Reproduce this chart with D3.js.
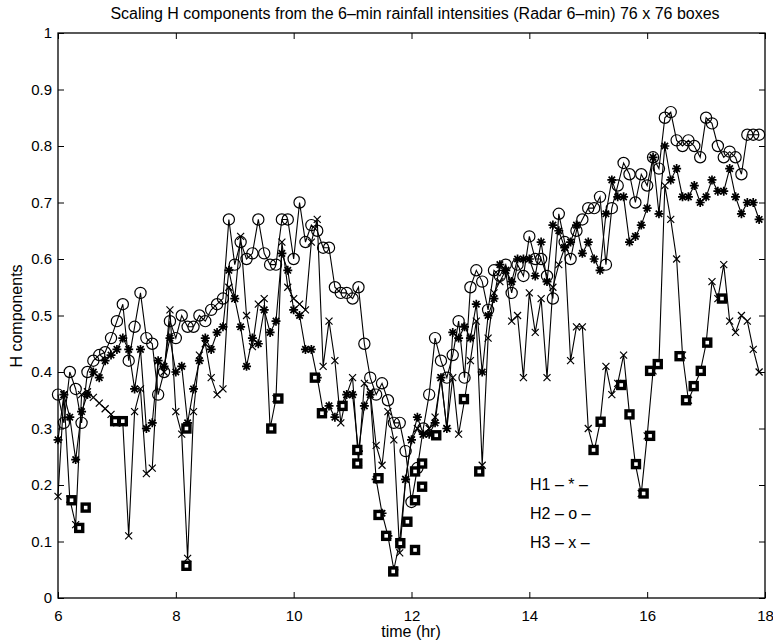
<!DOCTYPE html>
<html>
<head>
<meta charset="utf-8">
<script src="https://cdn.jsdelivr.net/npm/d3@7"></script>
<style>
  body { margin: 0; background: #fff; }
  text { font-family: "Liberation Sans", Arial, sans-serif; fill: #000; }
</style>
</head>
<body>
<svg id="chart" width="773" height="644"></svg>
<script>
// 6-min steps from 6.0 to 17.9 hr
var times = d3.range(120).map(function(i) { return 6 + i / 10; });

var h1 = [0.28, 0.36, 0.32, 0.245, 0.33, 0.36, 0.40, 0.39, 0.42, 0.43, 0.44, 0.46,
  0.44, 0.37, 0.44, 0.30, 0.31, 0.42, 0.41, 0.46, 0.40, 0.41,
  0.31, 0.37, 0.42, 0.46, 0.44, 0.47, 0.48, 0.58,
  0.53, 0.48, 0.41, 0.46, 0.45, 0.51, 0.47, 0.49, 0.61, 0.58,
  0.51, 0.50, 0.44, 0.44, 0.39, 0.33, 0.34, 0.32, 0.34, 0.36,
  0.36, 0.26, 0.34, 0.36, 0.21, 0.15, 0.11, 0.05, 0.10, 0.21,
  0.28, 0.32, 0.29, 0.29, 0.31, 0.39, 0.30, 0.47, 0.46, 0.48,
  0.46, 0.52, 0.40, 0.50, 0.53, 0.59, 0.58, 0.56, 0.60, 0.60,
  0.60, 0.57, 0.63, 0.56, 0.66, 0.65, 0.62, 0.63, 0.66, 0.61,
  0.63, 0.60, 0.58, 0.68, 0.74, 0.71, 0.71, 0.63, 0.64, 0.66,
  0.69, 0.78, 0.68, 0.80, 0.74, 0.76, 0.71, 0.71, 0.73, 0.70,
  0.71, 0.74, 0.72, 0.72, 0.76, 0.71, 0.68, 0.70, 0.70, 0.67];

var h2 = [0.36, 0.31, 0.40, 0.37, 0.31, 0.40, 0.42, 0.43, 0.435, 0.46, 0.49, 0.52,
  0.42, 0.48, 0.54, 0.46, 0.45, 0.36, 0.40, 0.49, 0.46, 0.50,
  0.48, 0.48, 0.50, 0.49, 0.51, 0.52, 0.53, 0.67,
  0.59, 0.63, 0.60, 0.61, 0.67, 0.61, 0.59, 0.59, 0.67, 0.67,
  0.60, 0.70, 0.63, 0.66, 0.65, 0.62, 0.62, 0.55, 0.54, 0.54,
  0.53, 0.55, 0.45, 0.39, 0.36, 0.38, 0.35, 0.31, 0.31, 0.26,
  0.17, 0.23, 0.30, 0.36, 0.46, 0.42, 0.39, 0.43, 0.49, 0.39,
  0.55, 0.58, 0.56, 0.51, 0.58, 0.57, 0.59, 0.54, 0.59, 0.57,
  0.64, 0.60, 0.60, 0.57, 0.53, 0.68, 0.63, 0.60, 0.65, 0.67,
  0.69, 0.69, 0.71, 0.59, 0.69, 0.73, 0.77, 0.75, 0.70, 0.75,
  0.73, 0.78, 0.76, 0.85, 0.86, 0.81, 0.80, 0.81, 0.80, 0.78,
  0.85, 0.84, 0.80, 0.78, 0.79, 0.78, 0.75, 0.82, 0.82, 0.82];

var h3 = [0.18, 0.36, 0.175, 0.13, 0.36, 0.365, 0.355, 0.345, 0.335, 0.325, 0.31, 0.31,
  0.11, 0.33, 0.37, 0.22, 0.23, 0.42, 0.40, 0.51, 0.33, 0.29,
  0.07, 0.33, 0.43, 0.45, 0.39, 0.36, 0.37, 0.55,
  0.53, 0.64, 0.50, 0.445, 0.52, 0.53, 0.30, 0.353, 0.63, 0.55,
  0.53, 0.52, 0.51, 0.63, 0.67, 0.41, 0.49, 0.42, 0.31, 0.36,
  0.39, 0.24, 0.38, 0.365, 0.27, 0.235, 0.33, 0.28, 0.08, 0.21,
  0.28, 0.30, 0.29, 0.30, 0.32, 0.39, 0.30, 0.39, 0.29, 0.35,
  0.42, 0.49, 0.235, 0.46, 0.54, 0.56, 0.58, 0.49, 0.50, 0.39,
  0.54, 0.47, 0.53, 0.39, 0.55, 0.59, 0.62, 0.42, 0.48, 0.48,
  0.30, 0.26, 0.31, 0.41, 0.36, 0.38, 0.43, 0.325, 0.237, 0.185,
  0.287, 0.402, 0.414, 0.73, 0.67, 0.60, 0.43, 0.35, 0.375, 0.40,
  0.45, 0.56, 0.53, 0.59, 0.49, 0.47, 0.50, 0.49, 0.44, 0.40];

// square markers
var sqTime = [6.23, 6.36, 6.47, 6.97, 7.10, 8.18, 8.18, 9.62, 9.74, 10.36, 10.48, 10.83,
  11.08, 11.08, 11.44, 11.44, 11.57, 11.69, 11.81, 11.93, 12.06, 12.06, 12.06, 12.18, 12.18,
  12.42, 12.89, 13.15, 15.09, 15.21, 15.56, 15.70, 15.81, 15.94, 16.05, 16.05, 16.18,
  16.55, 16.66, 16.79, 16.91, 17.02, 17.27];
var sqValue = [0.173, 0.124, 0.16, 0.313, 0.313, 0.30, 0.057, 0.30, 0.353, 0.39, 0.327, 0.34,
  0.262, 0.238, 0.212, 0.147, 0.11, 0.047, 0.097, 0.135, 0.085, 0.173, 0.224, 0.197, 0.238,
  0.288, 0.352, 0.224, 0.262, 0.312, 0.377, 0.325, 0.237, 0.185, 0.287, 0.402, 0.414,
  0.428, 0.35, 0.375, 0.402, 0.452, 0.53];

var xTicks = [6, 8, 10, 12, 14, 16, 18];
var yTicks = [0, 0.1, 0.2, 0.3, 0.4, 0.5, 0.6, 0.7, 0.8, 0.9, 1];
var legendLabels = ["H1 \u2013 * \u2013", "H2 \u2013 o \u2013", "H3 \u2013 x \u2013"];

var svg = d3.select("#chart");
var plotL = 58, plotR = 765, plotT = 33, plotB = 598;

var x = d3.scaleLinear().domain([6, 18]).range([plotL, plotR]);
var y = d3.scaleLinear().domain([0, 1]).range([plotB, plotT]);

function fmt(d) { return (d === 0 || d === 1) ? String(d) : d.toFixed(1); }

// axes, ticks pointing inward, box all round
svg.append("g").attr("transform", "translate(0," + plotB + ")")
  .call(d3.axisBottom(x).tickValues(xTicks).tickSizeInner(-6).tickSizeOuter(0).tickPadding(12).tickFormat(d3.format("d")))
  .call(function(g) { g.select(".domain").remove(); })
  .selectAll("text").style("font-size", "15px");
svg.append("g").attr("transform", "translate(" + plotL + ",0)")
  .call(d3.axisLeft(y).tickValues(yTicks).tickSizeInner(-6).tickSizeOuter(0).tickPadding(6).tickFormat(fmt))
  .call(function(g) { g.select(".domain").remove(); })
  .selectAll("text").style("font-size", "15px");
svg.append("g").attr("transform", "translate(0," + plotT + ")")
  .call(d3.axisTop(x).tickValues(xTicks).tickSizeInner(-6).tickSizeOuter(0).tickFormat(""))
  .call(function(g) { g.select(".domain").remove(); });
svg.append("g").attr("transform", "translate(" + plotR + ",0)")
  .call(d3.axisRight(y).tickValues(yTicks).tickSizeInner(-6).tickSizeOuter(0).tickFormat(""))
  .call(function(g) { g.select(".domain").remove(); });
svg.selectAll(".tick line").attr("stroke", "#000").attr("stroke-width", 1);

svg.append("rect")
  .attr("x", plotL).attr("y", plotT)
  .attr("width", plotR - plotL).attr("height", plotB - plotT)
  .attr("fill", "none").attr("stroke", "#000").attr("stroke-width", 1.3);

// lines
var line = d3.line().x(function(d) { return x(d[0]); }).y(function(d) { return y(d[1]); });
[h1, h2, h3].forEach(function(s) {
  svg.append("path")
    .datum(times.map(function(t, i) { return [t, s[i]]; }))
    .attr("d", line)
    .attr("fill", "none").attr("stroke", "#000").attr("stroke-width", 1.1);
});

// H2 circles
svg.append("g").selectAll("circle")
  .data(h2).enter().append("circle")
  .attr("cx", function(d, i) { return x(times[i]); })
  .attr("cy", function(d) { return y(d); })
  .attr("r", 5.6)
  .attr("fill", "none").attr("stroke", "#000").attr("stroke-width", 1.2);

// H1 asterisks
var star = "M-4.5,0H4.5M0,-4.5V4.5M-3.2,-3.2L3.2,3.2M-3.2,3.2L3.2,-3.2";
svg.append("g").selectAll("path")
  .data(h1).enter().append("path")
  .attr("transform", function(d, i) { return "translate(" + x(times[i]) + "," + y(d) + ")"; })
  .attr("d", star)
  .attr("stroke", "#000").attr("stroke-width", 1.7);

// H3 crosses
var cross = "M-3.5,-3.5L3.5,3.5M-3.5,3.5L3.5,-3.5";
svg.append("g").selectAll("path")
  .data(h3).enter().append("path")
  .attr("transform", function(d, i) { return "translate(" + x(times[i]) + "," + y(d) + ")"; })
  .attr("d", cross)
  .attr("stroke", "#000").attr("stroke-width", 1.2);

// squares
svg.append("g").selectAll("rect")
  .data(sqValue).enter().append("rect")
  .attr("x", function(d, i) { return x(sqTime[i]) - 3.5; })
  .attr("y", function(d) { return y(d) - 3.5; })
  .attr("width", 7).attr("height", 7)
  .attr("fill", "#fff").attr("stroke", "#000").attr("stroke-width", 3.4);

// titles
svg.append("text")
  .attr("x", 415).attr("y", 19)
  .attr("text-anchor", "middle").style("font-size", "16px")
  .text("Scaling H components from the 6\u2013min rainfall intensities (Radar 6\u2013min) 76 x 76 boxes");
svg.append("text")
  .attr("x", 411).attr("y", 637)
  .attr("text-anchor", "middle").style("font-size", "16px")
  .text("time (hr)");
svg.append("text")
  .attr("transform", "translate(22,316) rotate(-90)")
  .attr("text-anchor", "middle").style("font-size", "16px")
  .text("H components");

// legend
svg.append("g").selectAll("text")
  .data(legendLabels).enter().append("text")
  .attr("x", 530)
  .attr("y", function(d, i) { return 490 + i * 29; })
  .style("font-size", "16px")
  .text(function(d) { return d; });
</script>
</body>
</html>
